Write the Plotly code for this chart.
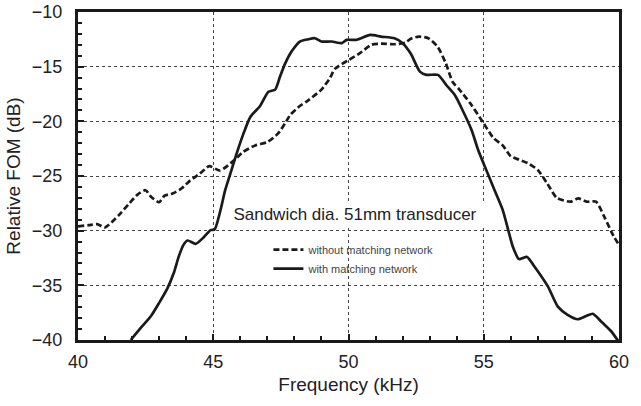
import plotly.graph_objects as go

# Data
freq_without = [40.0, 40.4, 40.7, 41.0, 41.5, 41.9, 42.2, 42.5, 42.7, 43.0, 43.2, 43.5, 43.85, 44.15,
                44.5, 44.85, 45.25, 45.8, 46.1, 46.55, 47.0, 47.4, 47.65, 47.85, 48.2, 48.5, 49.0,
                49.3, 49.5, 50.0, 50.4, 50.85, 51.2, 51.7, 52.1, 52.3, 52.6, 52.95, 53.3, 53.6,
                53.85, 54.1, 54.5, 55.0, 55.35, 55.7, 56.0, 56.3, 56.65, 57.0, 57.35, 57.7, 58.2,
                58.5, 58.8, 59.15, 59.45, 59.8, 60.0]
fom_without = [-29.6, -29.5, -29.4, -29.7, -28.6, -27.5, -26.7, -26.3, -26.9, -27.4, -26.8, -26.6,
               -26.1, -25.4, -24.8, -24.1, -24.5, -23.5, -22.8, -22.2, -21.9, -21.1, -20.2, -19.4,
               -18.6, -18.1, -17.1, -16.1, -15.2, -14.4, -13.8, -13.0, -12.9, -12.95, -12.8,
               -12.45, -12.25, -12.4, -13.2, -14.7, -16.4, -17.1, -18.35, -20.2, -21.5, -22.2,
               -23.2, -23.5, -23.85, -24.45, -25.7, -27.0, -27.35, -27.05, -27.35, -27.35, -28.7,
               -30.5, -31.3]

freq_with = [41.95, 42.35, 42.7, 43.0, 43.3, 43.55, 43.72, 43.9, 44.05, 44.35, 44.65, 44.9, 45.05,
             45.26, 45.44, 45.63, 45.87, 46.12, 46.37, 46.73, 47.04, 47.29, 47.47, 47.66, 47.9,
             48.2, 48.5, 48.76, 49.0, 49.38, 49.75, 49.93, 50.3, 50.8, 51.2, 51.7, 52.0, 52.3,
             52.64, 52.88, 53.31, 53.62, 53.93, 54.24, 54.55, 54.79, 55.1, 55.4, 55.7, 55.9,
             56.08, 56.3, 56.6, 56.88, 57.37, 57.74, 58.1, 58.48, 58.79, 59.03, 59.34, 59.71, 60.0]
fom_with = [-40.0, -38.8, -37.8, -36.6, -35.3, -33.8, -32.4, -31.3, -30.9, -31.2, -30.6, -29.95,
            -29.9, -28.2, -26.3, -24.8, -22.9, -21.1, -19.6, -18.6, -17.3, -17.1, -15.9, -14.7,
            -13.6, -12.7, -12.5, -12.4, -12.7, -12.7, -12.85, -12.55, -12.55, -12.1, -12.25,
            -12.4, -12.85, -13.8, -15.45, -15.75, -15.75, -16.7, -17.6, -19.1, -20.8, -22.6,
            -24.5, -26.3, -28.1, -29.9, -31.5, -32.6, -32.4, -33.3, -35.1, -36.95, -37.7, -38.1,
            -37.8, -37.6, -38.3, -39.2, -40.2]

label_without = "without matching network"
label_with = "with matching network"
note_text = "Sandwich dia. 51mm transducer"
x_title = "Frequency (kHz)"
y_title = "Relative FOM (dB)"

FONT = "Liberation Sans, Arial, sans-serif"

fig = go.Figure()
fig.add_trace(go.Scatter(x=freq_without, y=fom_without, mode="lines", name=label_without,
                         line=dict(color="#1a1a1a", width=2.7, dash="6px,3px", shape="spline", smoothing=0.6)))
fig.add_trace(go.Scatter(x=freq_with, y=fom_with, mode="lines", name=label_with,
                         line=dict(color="#1a1a1a", width=2.7, shape="spline", smoothing=0.6)))

axis_common = dict(
    showline=True, linewidth=3, linecolor="#1a1a1a", mirror=True, automargin=False,
    ticks="inside", ticklen=6, tickwidth=2, tickcolor="#1a1a1a",
    showgrid=True, gridcolor="#444444", griddash="dot", gridwidth=1,
    zeroline=False, tickfont=dict(size=18, color="#222222", family=FONT),
    ticklabeloverflow="allow",
    minor=dict(dtick=1, ticks="inside", ticklen=4, tickwidth=2, tickcolor="#1a1a1a", showgrid=False),
)

fig.update_layout(
    width=641, height=406, autosize=False,
    margin=dict(l=78, r=22, t=12, b=66),
    paper_bgcolor="white", plot_bgcolor="white",
    font=dict(family=FONT, color="#222222"),
    xaxis=dict(range=[40, 60], tick0=40, dtick=5, ticklabelstandoff=3,
               title=dict(text=x_title, font=dict(size=19, family=FONT, color="#222222"), standoff=8),
               **axis_common),
    yaxis=dict(range=[-40, -10], tick0=-40, dtick=5, ticklabelstandoff=9,
               title=dict(text=y_title, font=dict(size=19, family=FONT, color="#222222"), standoff=7),
               **axis_common),
    legend=dict(x=0.352, y=0.32, xanchor="left", yanchor="top",
                bgcolor="rgba(0,0,0,0)", borderwidth=0,
                font=dict(size=11, color="#444444", family=FONT),
                tracegroupgap=0),
    showlegend=True,
    annotations=[dict(text=note_text, xref="paper", yref="paper",
                      x=(354.5 - 78) / 541, y=(340 - 214) / 328,
                      xanchor="center", yanchor="middle", showarrow=False,
                      width=258, height=24, borderpad=0, bgcolor="white",
                      font=dict(size=17, color="#222222", family=FONT))],
)

# Remove the default 8px page margin so the figure fills the window exactly.
fig.write_html("out.html",
               config={"displayModeBar": False},
               post_script="document.body.style.margin='0';document.body.style.overflow='hidden';")
